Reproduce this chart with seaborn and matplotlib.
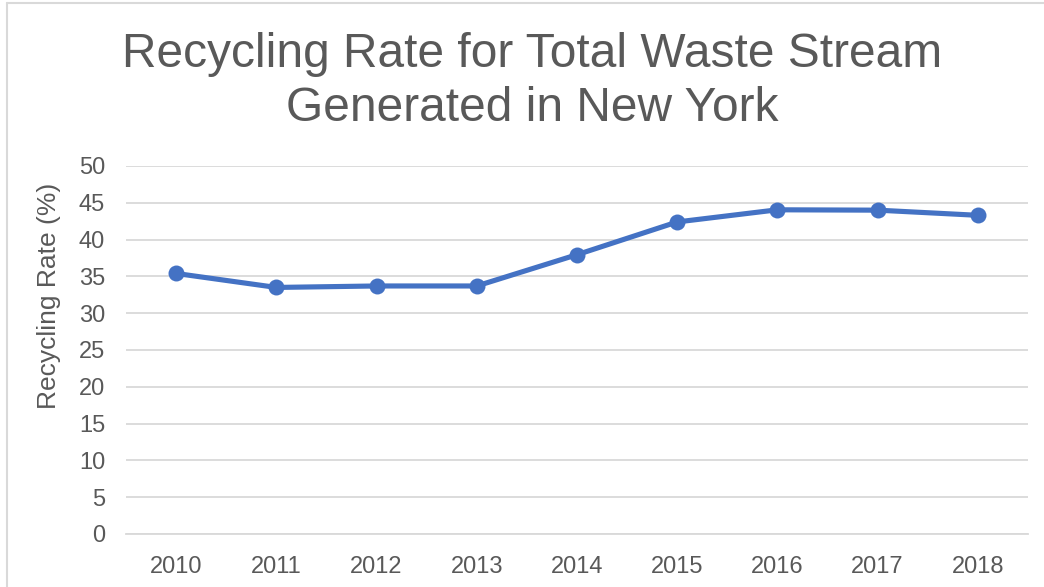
import numpy as np
import matplotlib
matplotlib.use("Agg")
import matplotlib.pyplot as plt
from matplotlib.lines import Line2D
import seaborn as sns
import pandas as pd

# data
years = [2010, 2011, 2012, 2013, 2014, 2015, 2016, 2017, 2018]
rates = [35.4, 33.5, 33.7, 33.7, 37.95, 42.4, 44.05, 44.0, 43.3]
yticks = [0, 5, 10, 15, 20, 25, 30, 35, 40, 45, 50]

TXT = "#595959"
GRID = "#D9D9D9"
BLUE = "#4472C4"

sns.set_theme(style="white")
plt.rcParams['font.family'] = ['Liberation Sans', 'DejaVu Sans']

df = pd.DataFrame({"year": years, "rate": rates})

fig = plt.figure(figsize=(10.44, 5.87), dpi=100)
ax = fig.add_axes([126/1044, 53/587, (1028-126)/1044, (534-166)/587])

sns.lineplot(data=df, x="year", y="rate", ax=ax, color=BLUE, linewidth=3.7,
             marker="o", markersize=11.5, markeredgewidth=0, zorder=3)

ax.set_xlim(2009.5, 2018.5)
ax.set_ylim(0, 50)
ax.set_xticks(years)
ax.set_xticklabels([str(y) for y in years])
ax.set_yticks(yticks)
ax.grid(axis="y", color=GRID, linewidth=1.3)
ax.set_axisbelow(True)
for s in ["top", "right", "left"]:
    ax.spines[s].set_visible(False)
ax.spines["bottom"].set_color(GRID)
ax.spines["bottom"].set_linewidth(1.3)
ax.tick_params(axis="both", length=0, labelsize=17, colors=TXT)
ax.tick_params(axis="x", pad=16)
ax.tick_params(axis="y", pad=15)
ax.set_xlabel("")
ax.set_ylabel("Recycling Rate (%)", fontsize=19, color=TXT)
ax.yaxis.set_label_coords(-0.072, 0.647)

fig.text(532/1044, 1 - 32/587, "Recycling Rate for Total Waste Stream\nGenerated in New York",
         ha="center", va="top", fontsize=34.5, color=TXT, linespacing=1.26)

# light frame of the chart area (left and top)
fig.add_artist(Line2D([7/1044, 7/1044], [0, 1 - 3/587], transform=fig.transFigure,
                      color="#D9D9D9", linewidth=1.5))
fig.add_artist(Line2D([7/1044, 1], [1 - 3/587, 1 - 3/587], transform=fig.transFigure,
                      color="#D9D9D9", linewidth=1.5))

fig.savefig("out.png", dpi=100, facecolor="white")
